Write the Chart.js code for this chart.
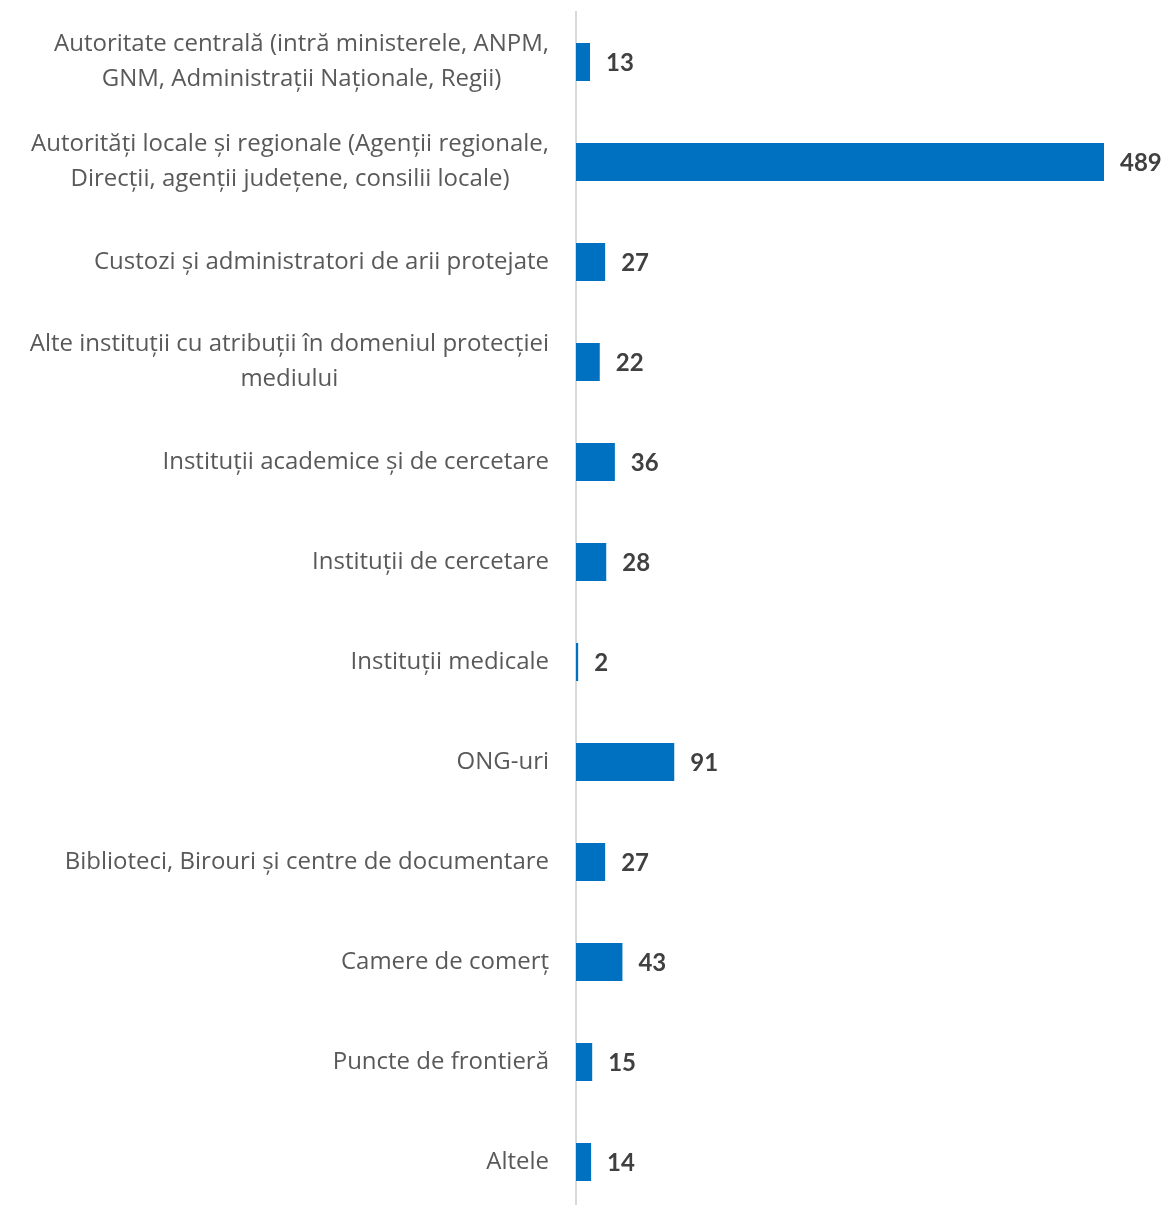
<!DOCTYPE html>
<html>
<head>
<meta charset="utf-8">
<script src="https://cdn.jsdelivr.net/npm/chart.js@4"></script>
<style>
  html, body { margin: 0; padding: 0; background: #fff; overflow: hidden; }
  #wrap { width: 1167px; height: 1215px; position: relative; }
</style>
</head>
<body>
<div id="wrap"><canvas id="chart"></canvas></div>
<script>
// categorii (etichete pe mai multe rânduri)
var categorii = [
  ['Autoritate centrală (intră ministerele, ANPM,', 'GNM, Administrații Naționale, Regii)'],
  ['Autorități locale și regionale (Agenții regionale,', 'Direcții, agenții județene, consilii locale)'],
  'Custozi și administratori de arii protejate',
  ['Alte instituții cu atribuții în domeniul protecției', 'mediului'],
  'Instituții academice și de cercetare',
  'Instituții de cercetare',
  'Instituții medicale',
  'ONG-uri',
  'Biblioteci, Birouri și centre de documentare',
  'Camere de comerț',
  'Puncte de frontieră',
  'Altele'
];
var valori = [13, 489, 27, 22, 36, 28, 2, 91, 27, 43, 15, 14];

// etichetele categoriilor: blocul aliniat la dreapta, rândurile centrate între ele
var eticheteCategorii = {
  id: 'eticheteCategorii',
  afterDraw: function(chart) {
    var ctx = chart.ctx;
    var y = chart.scales.y;
    var dreapta = chart.chartArea.left - 27;
    ctx.save();
    ctx.font = '24px "Open Sans"';
    ctx.fillStyle = '#595959';
    ctx.textAlign = 'center';
    ctx.textBaseline = 'middle';
    categorii.forEach(function(lbl, i) {
      var randuri = Array.isArray(lbl) ? lbl : [lbl];
      var latime = Math.max.apply(null, randuri.map(function(r) { return ctx.measureText(r).width; }));
      var cx = dreapta - latime / 2;
      var cy = y.getPixelForTick(i);
      randuri.forEach(function(r, j) {
        ctx.fillText(r, cx, cy + (j - (randuri.length - 1) / 2) * 35);
      });
    });
    ctx.restore();
  }
};

// etichete cu valori la capătul barelor
var eticheteValori = {
  id: 'eticheteValori',
  afterDatasetsDraw: function(chart) {
    var ctx = chart.ctx;
    var meta = chart.getDatasetMeta(0);
    ctx.save();
    ctx.font = 'bold 24px Lato';
    ctx.fillStyle = '#404040';
    ctx.textAlign = 'left';
    ctx.textBaseline = 'middle';
    meta.data.forEach(function(bar, i) {
      ctx.fillText(valori[i], bar.x + 16, bar.y + 1);
    });
    ctx.restore();
  }
};

var ctx = document.getElementById('chart').getContext('2d');
var grafic = new Chart(ctx, {
  type: 'bar',
  data: {
    labels: categorii,
    datasets: [{
      data: valori,
      backgroundColor: '#0070C0',
      borderWidth: 0,
      categoryPercentage: 1,
      barPercentage: 0.38
    }]
  },
  options: {
    indexAxis: 'y',
    responsive: true,
    maintainAspectRatio: false,
    animation: false,
    layout: { padding: { top: 12, bottom: 3, right: 63, left: 0 } },
    plugins: {
      legend: { display: false },
      tooltip: { enabled: false }
    },
    scales: {
      x: {
        display: false,
        min: 0,
        max: 489
      },
      y: {
        afterFit: function(scale) {
          scale.width = 576;
          scale.paddingTop = 0;
          scale.paddingBottom = 0;
        },
        grid: { display: false, drawTicks: false },
        border: { display: true, color: '#d9d9d9', width: 2 },
        ticks: { display: false }
      }
    }
  },
  plugins: [eticheteValori, eticheteCategorii]
});
</script>
</body>
</html>
